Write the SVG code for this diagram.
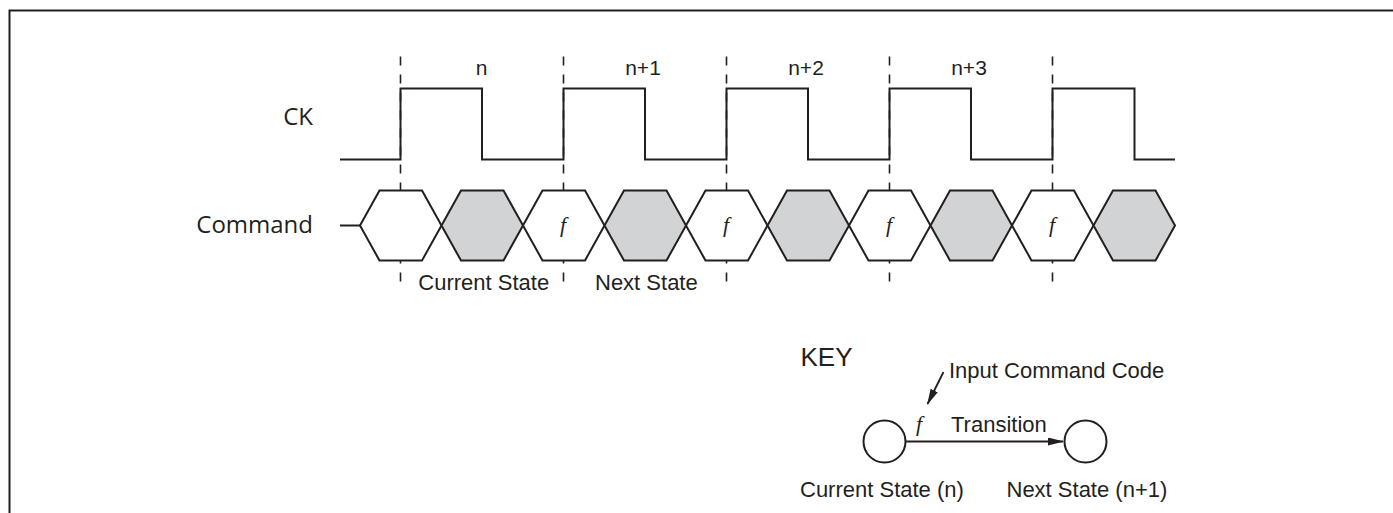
<svg xmlns="http://www.w3.org/2000/svg" xmlns:xlink="http://www.w3.org/1999/xlink" width="1393" height="513" viewBox="0 0 1393 513">
  <style>
    .ln { fill: none; stroke: #231f20; stroke-width: 2; }
    .dash { fill: none; stroke: #231f20; stroke-width: 1.6; stroke-dasharray: 9 9; }
    .hw { fill: #ffffff; stroke: #231f20; stroke-width: 2; stroke-linejoin: miter; }
    .hg { fill: #d1d3d4; stroke: #231f20; stroke-width: 2; stroke-linejoin: miter; }
    .t { font-family: "Liberation Sans", Arial, sans-serif; font-size: 22px; fill: #231f20; }
    .tn { font-family: "Liberation Sans", Arial, sans-serif; font-size: 21px; fill: #231f20; text-anchor: middle; }
    .sig { font-family: "Open Sans", "Noto Sans", sans-serif; font-size: 24px; fill: #231f20; text-anchor: end; }
    .f { font-family: "Liberation Serif", "Times New Roman", serif; font-style: italic; font-size: 22px; fill: #231f20; text-anchor: middle; }
    .node { fill: #ffffff; stroke: #231f20; stroke-width: 2; }
    .conn { fill: none; stroke: #231f20; stroke-width: 1.8; }
  </style>
  <defs>
    <polygon id="hex" points="0,225.5 19.5,190.5 62,190.5 81.5,225.5 62,260.5 19.5,260.5"/>
    <marker id="arrow" viewBox="0 0 16 8" refX="15" refY="4" markerWidth="16" markerHeight="8" markerUnits="userSpaceOnUse" orient="auto">
      <path d="M0,0 L16,4 L0,8 z" fill="#231f20"/>
    </marker>
  </defs>

  <rect width="1393" height="513" fill="#ffffff"/>

  <g id="border">
    <path class="ln" d="M9.5,513 V10.5 H1393" stroke-width="2.4"/>
  </g>

  <g id="clock-edges">
    <line class="dash" x1="400.5" y1="56.5" x2="400.5" y2="282"/>
    <line class="dash" x1="563.5" y1="56.5" x2="563.5" y2="282"/>
    <line class="dash" x1="726.5" y1="56.5" x2="726.5" y2="282"/>
    <line class="dash" x1="889.5" y1="56.5" x2="889.5" y2="282"/>
    <line class="dash" x1="1052.5" y1="56.5" x2="1052.5" y2="282"/>
  </g>

  <g id="ck-signal">
    <text class="sig" x="313" y="125">CK</text>
    <path class="ln" d="M340,159.5 H400.5 V88.5 H482 V159.5 H563.5 V88.5 H645 V159.5 H726.5 V88.5 H808 V159.5 H889.5 V88.5 H971 V159.5 H1052.5 V88.5 H1134.5 V159.5 H1175"/>
  </g>

  <g id="cycle-labels">
    <text class="tn" x="481.5" y="75">n</text>
    <text class="tn" x="643" y="75">n+1</text>
    <text class="tn" x="806" y="75">n+2</text>
    <text class="tn" x="969" y="75">n+3</text>
  </g>

  <g id="command-signal">
    <text class="sig" x="313" y="233">Command</text>
    <line class="ln" x1="340" y1="225.5" x2="360" y2="225.5"/>
    <use xlink:href="#hex" href="#hex" class="hw" x="360"/>
    <use xlink:href="#hex" href="#hex" class="hg" x="441.5"/>
    <use xlink:href="#hex" href="#hex" class="hw" x="523"/>
    <use xlink:href="#hex" href="#hex" class="hg" x="604.5"/>
    <use xlink:href="#hex" href="#hex" class="hw" x="686"/>
    <use xlink:href="#hex" href="#hex" class="hg" x="767.5"/>
    <use xlink:href="#hex" href="#hex" class="hw" x="849"/>
    <use xlink:href="#hex" href="#hex" class="hg" x="930.5"/>
    <use xlink:href="#hex" href="#hex" class="hw" x="1012"/>
    <use xlink:href="#hex" href="#hex" class="hg" x="1093.5"/>
    <text class="f" x="563" y="232">f</text>
    <text class="f" x="726" y="232">f</text>
    <text class="f" x="889" y="232">f</text>
    <text class="f" x="1052" y="232">f</text>
  </g>

  <g id="state-labels">
    <text class="t" x="418.3" y="290">Current State</text>
    <text class="t" x="595" y="290">Next State</text>
  </g>

  <g id="key">
    <text class="t" x="800.5" y="366" style="font-size:26px">KEY</text>
    <text class="t" x="949" y="378">Input Command Code</text>
    <text class="t" x="951" y="431.5">Transition</text>
    <text class="f" x="919" y="431">f</text>
    <g id="key-current-state">
      <circle class="node" cx="884.5" cy="441.5" r="21"/>
      <text class="t" x="800" y="496.5">Current State (n)</text>
    </g>
    <g id="key-next-state">
      <circle class="node" cx="1085.5" cy="441.5" r="21"/>
      <text class="t" x="1006.5" y="496.5">Next State (n+1)</text>
    </g>
  </g>

  <g id="connectors">
    <line class="conn" x1="905.5" y1="441.5" x2="1063" y2="441.5" marker-end="url(#arrow)"/>
    <line class="conn" x1="943.5" y1="372" x2="927.5" y2="404" marker-end="url(#arrow)"/>
  </g>
</svg>
